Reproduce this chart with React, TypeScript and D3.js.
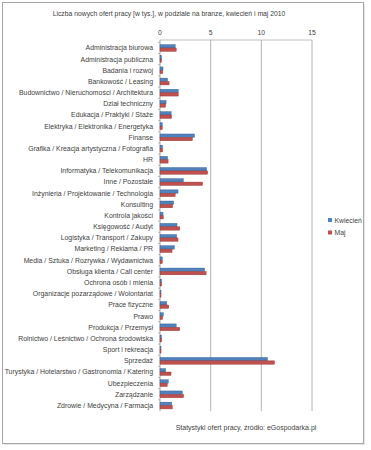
import React from "react";
import * as d3 from "d3";

const categories = [
  "Administracja biurowa",
  "Administracja publiczna",
  "Badania i rozwój",
  "Bankowość / Leasing",
  "Budownictwo / Nieruchomości / Architektura",
  "Dział techniczny",
  "Edukacja / Praktyki / Staże",
  "Elektryka / Elektronika / Energetyka",
  "Finanse",
  "Grafika / Kreacja artystyczna  / Fotografia",
  "HR",
  "Informatyka / Telekomunikacja",
  "Inne / Pozostałe",
  "Inżynieria / Projektowanie / Technologia",
  "Konsulting",
  "Kontrola jakości",
  "Księgowość / Audyt",
  "Logistyka / Transport / Zakupy",
  "Marketing / Reklama  / PR",
  "Media / Sztuka / Rozrywka / Wydawnictwa",
  "Obsługa klienta / Call center",
  "Ochrona osób i mienia",
  "Organizacje pozarządowe  / Wolontariat",
  "Prace fizyczne",
  "Prawo",
  "Produkcja / Przemysł",
  "Rolnictwo / Leśnictwo / Ochrona środowiska",
  "Sport i rekreacja",
  "Sprzedaż",
  "Turystyka / Hotelarstwo / Gastronomia  / Katering",
  "Ubezpieczenia",
  "Zarządzanie",
  "Zdrowie / Medycyna / Farmacja",
];

const kwiecien = [
  1.5, 0.15, 0.3, 0.75, 1.8, 0.6, 1.1, 0.23, 3.4, 0.26, 0.75, 4.6, 2.3, 1.78,
  1.35, 0.3, 1.68, 1.65, 1.42, 0.23, 4.4, 0.16, 0.1, 0.66, 0.33, 1.6, 0.16, 0.1,
  10.6, 0.56, 0.82, 2.2, 1.15,
];
const maj = [
  1.6, 0.15, 0.27, 0.9, 1.8, 0.55, 1.15, 0.23, 3.2, 0.26, 0.8, 4.7, 4.2, 1.5,
  1.25, 0.33, 1.95, 1.78, 1.19, 0.23, 4.55, 0.16, 0.1, 0.86, 0.26, 1.95, 0.16,
  0.1, 11.3, 1.09, 0.72, 2.33, 1.22,
];
const xTicks = [0, 5, 10, 15];
const seriesNames = ["Kwiecień", "Maj"];
const title =
  "Liczba nowych ofert pracy [w tys.], w podziale na branze,  kwiecień i maj  2010";
const source = "Statystyki ofert pracy, źródło: eGospodarka.pl";

const W = 371;
const H = 450;
const colors = ["#4F81BD", "#C0504D"];
const strokes = ["#385D8A", "#8C3836"];
const font = "'Liberation Sans', Arial, sans-serif";
const textColor = "#404040";

export default function App() {
  const plotTop = 42.4;
  const plotBottom = 411.1;
  const x = d3.scaleLinear().domain([0, 15]).range([160, 312]);
  const y = d3
    .scaleBand<string>()
    .domain(categories)
    .range([plotTop, plotBottom])
    .padding(0);
  const bh = 3.4;
  const series = [kwiecien, maj];

  return (
    <svg
      width={W}
      height={H}
      style={{ position: "absolute", left: 0, top: 0, background: "#fff" }}
      fontFamily={font}
    >
      <rect x={4} y={4} width={361} height={441} fill="#e6e6e6" />
      <rect x={2.5} y={2.5} width={361} height={441} fill="#fff" stroke="#a6a6a6" />
      <text
        x={169}
        y={16}
        textAnchor="middle"
        fontSize={6.8}
        fill={textColor}
      >
        {title}
      </text>
      {/* gridlines */}
      {xTicks.map((t) => (
        <g key={t}>
          {t > 0 && (
            <line
              x1={x(t)}
              x2={x(t)}
              y1={40}
              y2={plotBottom}
              stroke="#a0a0a0"
              strokeWidth={0.8}
            />
          )}
          <text
            x={x(t)}
            y={35}
            textAnchor="middle"
            fontSize={6.8}
            fill={textColor}
          >
            {t}
          </text>
        </g>
      ))}
      <line
        x1={x(0)}
        x2={x(15)}
        y1={40}
        y2={40}
        stroke="#b0b0b0"
        strokeWidth={0.8}
      />
      {/* y axis */}
      <line
        x1={x(0)}
        x2={x(0)}
        y1={40}
        y2={plotBottom}
        stroke="#909090"
        strokeWidth={0.8}
      />
      {categories.map((c, i) => (
        <line
          key={"t" + i}
          x1={x(0) - 2}
          x2={x(0)}
          y1={y(c) as number}
          y2={y(c) as number}
          stroke="#909090"
          strokeWidth={0.6}
        />
      ))}
      {categories.map((c, i) => {
        const cy = (y(c) as number) + y.bandwidth() / 2;
        return (
          <g key={c}>
            <text
              x={153}
              y={cy + 2.4}
              textAnchor="end"
              fontSize={6.9}
              fill={textColor}
            >
              {c}
            </text>
            {series.map((s, k) => (
              <rect
                key={k}
                x={x(0)}
                y={cy - bh + k * bh}
                width={Math.max(0, x(s[i]) - x(0))}
                height={bh}
                fill={colors[k]}
                stroke={strokes[k]}
                strokeWidth={0.4}
              />
            ))}
          </g>
        );
      })}
      {/* legend */}
      {seriesNames.map((n, k) => (
        <g key={n}>
          <rect
            x={328}
            y={218 + k * 12.5}
            width={4}
            height={4}
            fill={colors[k]}
          />
          <text x={334.5} y={222.5 + k * 12.5} fontSize={6.8} fill={textColor}>
            {n}
          </text>
        </g>
      ))}
      <text
        x={246}
        y={430}
        textAnchor="middle"
        fontSize={7}
        fill={textColor}
      >
        {source}
      </text>
    </svg>
  );
}
